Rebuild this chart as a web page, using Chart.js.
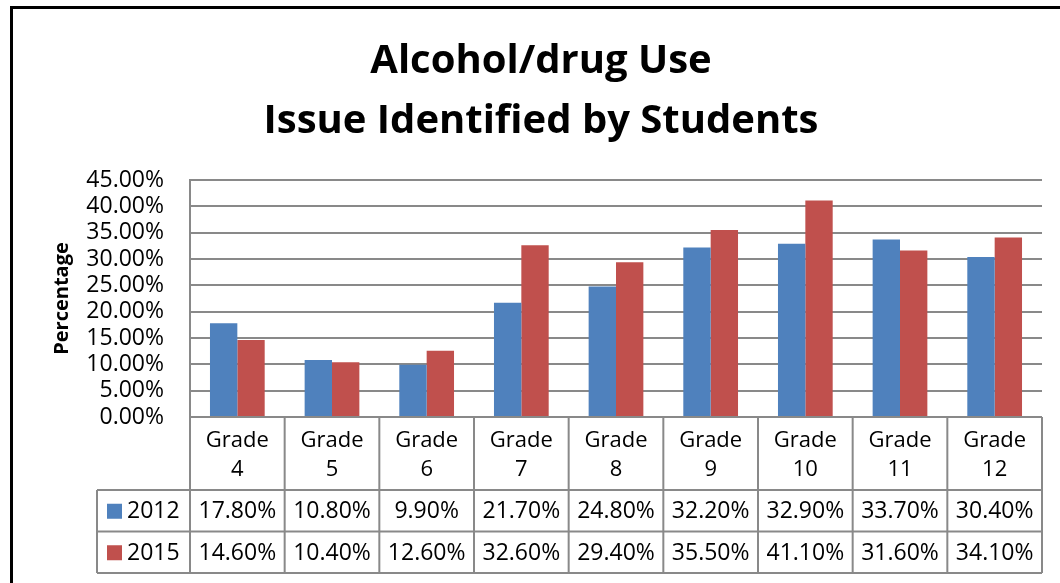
<!DOCTYPE html>
<html>
<head>
<meta charset="utf-8">
<script src="https://cdn.jsdelivr.net/npm/chart.js@4"></script>
<style>
  html, body { margin: 0; padding: 0; background: #fff; }
  #wrap { width: 1060px; height: 583px; position: relative; }
</style>
</head>
<body>
<div id="wrap"><canvas id="chart"></canvas></div>
<script>
// data
const grades = ['4', '5', '6', '7', '8', '9', '10', '11', '12'];
const seriesNames = ['2012', '2015'];
const values2012 = [17.8, 10.8, 9.9, 21.7, 24.8, 32.2, 32.9, 33.7, 30.4];
const values2015 = [14.6, 10.4, 12.6, 32.6, 29.4, 35.5, 41.1, 31.6, 34.1];
const titleLines = ['Alcohol/drug Use', 'Issue Identified by Students'];
const yAxisTitle = 'Percentage';

const colors = ['#4F81BD', '#C0504D'];
const gridGray = '#898989';
const fontFamily = "'Open Sans', 'Liberation Sans', sans-serif";

const fmt = v => v.toFixed(2) + '%';

// --- plugin: outer frame + data table under the axis ---
const dataTablePlugin = {
    id: 'dataTable',
    beforeDraw(chart) {
        const ctx = chart.ctx;
        ctx.save();
        ctx.strokeStyle = '#000';
        ctx.lineWidth = 3;
        ctx.beginPath();
        ctx.moveTo(11.5, chart.height + 5);
        ctx.lineTo(11.5, 7.5);
        ctx.lineTo(chart.width + 5, 7.5);
        ctx.stroke();
        ctx.restore();
    },
    afterDraw(chart) {
        const ctx = chart.ctx;
        const area = chart.chartArea;
        const xs = chart.scales.x;
        const n = grades.length;
        const cellW = (area.right - area.left) / n;
        const headTop = area.bottom;
        const headBottom = xs.bottom;
        const rowH = 41.5;
        const legendLeft = area.left - 93;
        const rows = [values2012, values2015];
        const tableBottom = headBottom + rowH * rows.length;

        ctx.save();
        ctx.strokeStyle = gridGray;
        ctx.lineWidth = 2;
        ctx.beginPath();
        // horizontals
        ctx.moveTo(area.left, headTop); ctx.lineTo(area.right, headTop);
        for (let r = 0; r <= rows.length; r++) {
            const y = headBottom + r * rowH;
            ctx.moveTo(legendLeft, y); ctx.lineTo(area.right, y);
        }
        // verticals
        ctx.moveTo(legendLeft, headBottom); ctx.lineTo(legendLeft, tableBottom);
        for (let i = 0; i <= n; i++) {
            const x = xs.getPixelForValue(Math.min(i, n - 1)) + (i === n ? cellW / 2 : -cellW / 2);
            ctx.moveTo(x, headTop); ctx.lineTo(x, tableBottom);
        }
        ctx.stroke();

        // cells
        ctx.fillStyle = '#000';
        ctx.font = '23px ' + fontFamily;
        ctx.textBaseline = 'middle';
        rows.forEach((vals, r) => {
            const yMid = headBottom + r * rowH + rowH / 2;
            // legend key
            ctx.fillStyle = colors[r];
            ctx.fillRect(legendLeft + 10, yMid - 7, 15, 15);
            ctx.fillStyle = '#000';
            ctx.textAlign = 'left';
            ctx.fillText(seriesNames[r], legendLeft + 30, yMid + 1);
            ctx.textAlign = 'center';
            vals.forEach((v, i) => {
                ctx.fillText(fmt(v), xs.getPixelForValue(i), yMid + 1);
            });
        });
        ctx.restore();
    }
};

new Chart(document.getElementById('chart'), {
    type: 'bar',
    data: {
        labels: grades.map(g => ['Grade', g]),
        datasets: [
            { label: seriesNames[0], data: values2012, backgroundColor: colors[0], categoryPercentage: 0.578, barPercentage: 1 },
            { label: seriesNames[1], data: values2015, backgroundColor: colors[1], categoryPercentage: 0.578, barPercentage: 1 }
        ]
    },
    options: {
        responsive: true,
        maintainAspectRatio: false,
        animation: false,
        layout: { padding: { left: 22, right: 0, top: 0, bottom: 93 } },
        plugins: {
            legend: { display: false },
            tooltip: { enabled: false },
            title: {
                display: true,
                text: titleLines,
                color: '#000',
                font: { family: fontFamily, size: 40, weight: 'bold', lineHeight: 1.5 },
                padding: { top: 32, bottom: 28 }
            }
        },
        scales: {
            x: {
                grid: { display: false },
                border: { display: false },
                ticks: {
                    color: '#000',
                    font: { family: fontFamily, size: 22, lineHeight: 1.32 },
                    padding: 1,
                    maxRotation: 0,
                    autoSkip: false
                },
                afterFit(scale) { scale.height = 73; }
            },
            y: {
                min: 0,
                max: 45,
                ticks: {
                    stepSize: 5,
                    autoSkip: false,
                    color: '#000',
                    padding: 26,
                    font: { family: fontFamily, size: 23 },
                    callback: v => fmt(v)
                },
                grid: { color: gridGray, lineWidth: 2, drawTicks: false },
                border: { color: gridGray, width: 2 },
                title: {
                    display: true,
                    text: yAxisTitle,
                    color: '#000',
                    font: { family: fontFamily, size: 20, weight: 'bold', lineHeight: 1.2 },
                    padding: { top: 28, bottom: 0 }
                },
                afterFit(scale) { scale.width = 168; }
            },
            // empty right-hand strip so the plot ends where the reference does
            spacer: {
                position: 'right',
                display: true,
                grid: { display: false },
                border: { display: false },
                ticks: { display: false },
                afterFit(scale) { scale.width = 18; }
            }
        }
    },
    plugins: [dataTablePlugin]
});
</script>
</body>
</html>
